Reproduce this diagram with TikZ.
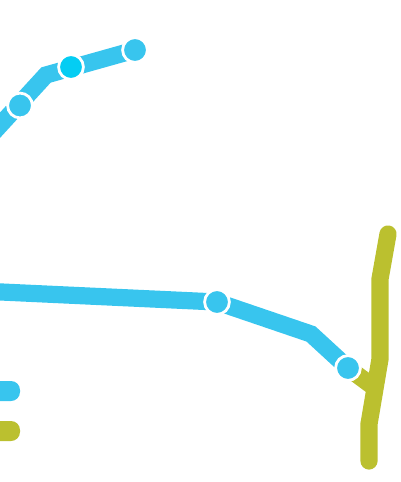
\documentclass[tikz,border=0pt]{standalone}
\usetikzlibrary{backgrounds}
\definecolor{lineblue}{HTML}{38C5EE}
\definecolor{brightblue}{HTML}{04CDF3}
\definecolor{lineolive}{HTML}{BBC02F}
\tikzset{
  route/.style={line width=17.2pt,line join=miter},
  stop/.style={circle,draw=white,line width=2.8pt,minimum size=24.8pt,inner sep=0pt,fill=lineblue},
  legendbar/.style={rounded corners=9pt,draw=none}
}
\begin{document}
\begin{tikzpicture}[x=1pt,y=-1pt]
\useasboundingbox (0,0) rectangle (400,482);
\clip (0,0) rectangle (400,482);
% free-end coordinates
\coordinate (olA) at (388,234);
\coordinate (olB) at (380,279);
\coordinate (olC) at (380,359);
\coordinate (olD) at (369,424);
\coordinate (olE) at (369,461);
\coordinate (olF) at (375,388);
\coordinate (blA) at (-20,147);
\coordinate (blB) at (46,75);
\coordinate (blC) at (-20,291);
\coordinate (blD) at (311,334);
% stops
\node[stop] (s1) at (20,105.5) {};
\node[stop,fill=brightblue] (s2) at (71,67) {};
\node[stop] (s3) at (135,50) {};
\node[stop] (s4) at (217,302) {};
\node[stop] (s5) at (348,368) {};
% legend
\fill[legendbar,fill=lineblue] (-20,381) rectangle (20,401);
\fill[legendbar,fill=lineolive] (-20,421) rectangle (20,441);
% routes under the stops
\begin{scope}[on background layer]
\draw[route,lineolive,line cap=round] (olA) -- (olB) -- (olC) -- (olD) -- (olE);
\draw[route,lineolive] (s5.center) -- (olF);
\draw[route,lineblue] (blA) -- (blB) -- (s3.center);
\draw[route,lineblue] (blC) -- (s4.center) -- (blD) -- (s5.center);
\end{scope}
\end{tikzpicture}
\end{document}
